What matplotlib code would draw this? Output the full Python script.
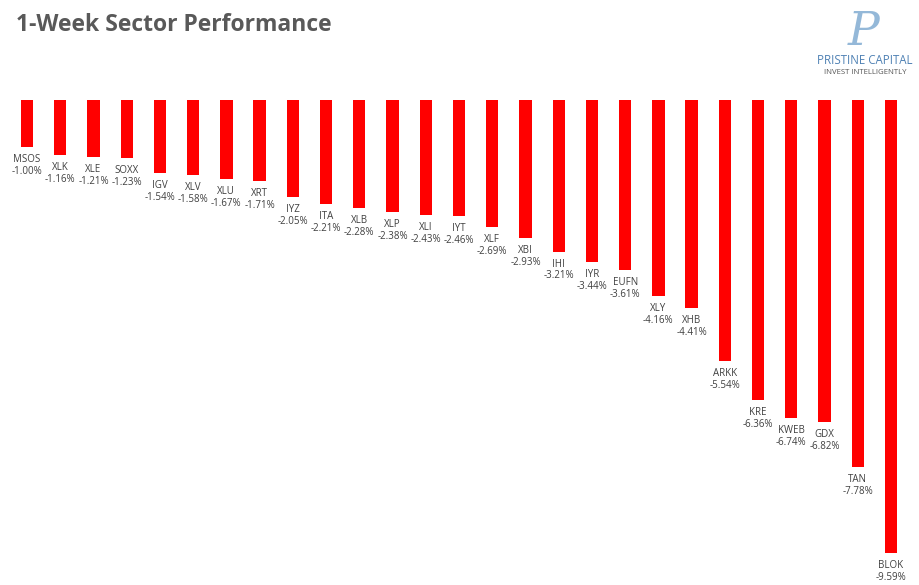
import matplotlib
matplotlib.use("Agg")
import matplotlib.pyplot as plt

tickers = ["MSOS", "XLK", "XLE", "SOXX", "IGV", "XLV", "XLU", "XRT", "IYZ", "ITA",
           "XLB", "XLP", "XLI", "IYT", "XLF", "XBI", "IHI", "IYR", "EUFN", "XLY",
           "XHB", "ARKK", "KRE", "KWEB", "GDX", "TAN", "BLOK"]
returns = [-1.00, -1.16, -1.21, -1.23, -1.54, -1.58, -1.67, -1.71, -2.05, -2.21,
           -2.28, -2.38, -2.43, -2.46, -2.69, -2.93, -3.21, -3.44, -3.61, -4.16,
           -4.41, -5.54, -6.36, -6.74, -6.82, -7.78, -9.59]

W, H = 920, 585
fig = plt.figure(figsize=(W / 100, H / 100), dpi=100)
fig.patch.set_facecolor("white")

px_per_unit = 47.2
top_px = 100
left_px, right_px = 10.4, 907.6
ax = fig.add_axes([left_px / W, 0, (right_px - left_px) / W, (H - top_px) / H])
ax.set_xlim(-0.5, len(tickers) - 0.5)
ax.set_ylim(-(H - top_px) / px_per_unit, 0)
ax.axis("off")

x = list(range(len(tickers)))
ax.bar(x, returns, width=0.37, color="#ff0000", align="center")

for xi, name, v in zip(x, tickers, returns):
    ax.annotate(name, (xi, v), xytext=(0, -9.0), textcoords="offset points",
                ha="center", va="center", fontsize=7, color="#404040",
                family="Open Sans")
    ax.annotate(f"{v:.2f}%", (xi, v), xytext=(0, -17.6), textcoords="offset points",
                ha="center", va="center", fontsize=7, color="#404040",
                family="Open Sans")

fig.text(16 / W, 1 - 25 / H, "1-Week Sector Performance", fontsize=16.5,
         fontweight="bold", color="#595959", ha="left", va="center",
         family="Open Sans")

# logo
fig.text(864 / W, 1 - 32 / H, "P", fontsize=34, style="italic", color="#7aa7cf",
         ha="center", va="center", family="DejaVu Serif", fontweight="light",
         alpha=0.8)
fig.text(865 / W, 1 - 61 / H, "PRISTINE CAPITAL", fontsize=8.3, color="#4f81b4",
         ha="center", va="center", family="Open Sans")
fig.text(865 / W, 1 - 72 / H, "INVEST INTELLIGENTLY", fontsize=5.6, color="#555555",
         ha="center", va="center", family="Open Sans")

fig.savefig("out.png", dpi=100, facecolor="white")
